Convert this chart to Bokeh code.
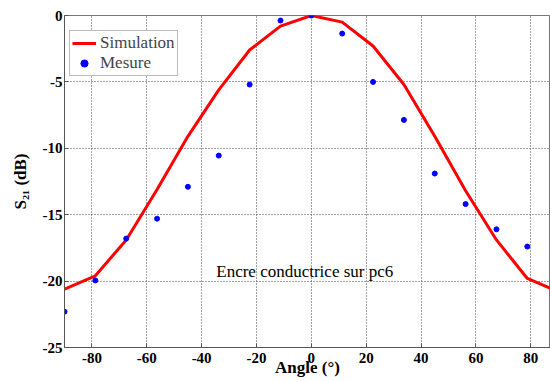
from bokeh.plotting import figure
from bokeh.models import Range1d, FixedTicker, Label, Legend, LegendItem
from bokeh.embed import file_html
from bokeh.resources import INLINE

# ---- data ----
angles = [-90, -78.75, -67.5, -56.25, -45, -33.75, -22.5, -11.25, 0,
          11.25, 22.5, 33.75, 45, 56.25, 67.5, 78.75, 90]
simulation = [-20.6, -19.6, -16.9, -13.1, -9.1, -5.6, -2.6, -0.8, 0.0,
              -0.5, -2.3, -5.2, -9.1, -13.2, -16.9, -19.8, -20.8]
mesure_angles = [-90, -78.75, -67.5, -56.25, -45, -33.75, -22.5, -11.25, 0,
                 11.25, 22.5, 33.75, 45, 56.25, 67.5, 78.75]
mesure = [-22.3, -19.95, -16.8, -15.3, -12.9, -10.55, -5.2, -0.38, 0.0,
          -1.36, -5.0, -7.86, -11.9, -14.2, -16.1, -17.4]
x_ticks = [-80, -60, -40, -20, 0, 20, 40, 60, 80]
x_tick_labels = ["-80", "-60", "-40", "-20", "0", "20", "40", "60", "80"]
y_ticks = [-25, -20, -15, -10, -5, 0]
y_tick_labels = ["-25", "-20", "-15", "-10", "-5", "0"]

FONT = "Liberation Serif"

p = figure(width=550, height=381, x_range=Range1d(-90, 87.2), y_range=Range1d(-25, 0),
           output_backend="svg", toolbar_location=None,
           min_border_left=64, min_border_right=0, min_border_top=15, min_border_bottom=34)
p.background_fill_color = "white"
p.border_fill_color = "white"
p.outline_line_color = "#777777"
p.outline_line_width = 1

sim_r = p.line(angles, simulation, line_color="#FF0000", line_width=3)
mes_r = p.scatter(mesure_angles, mesure, size=5, marker="circle",
                  fill_color="#0000FF", line_color="#0000FF")

# axes
p.xaxis.ticker = FixedTicker(ticks=x_ticks)
p.yaxis.ticker = FixedTicker(ticks=y_ticks)
p.xaxis.major_label_overrides = dict(zip(x_ticks, x_tick_labels))
p.yaxis.major_label_overrides = dict(zip(y_ticks, y_tick_labels))
for ax in (p.xaxis, p.yaxis):
    ax.major_label_text_font = FONT
    ax.major_label_text_font_style = "bold"
    ax.major_label_text_font_size = "15px"
    ax.major_label_text_color = "black"
    ax.minor_tick_line_color = None
    ax.major_tick_in = 4
    ax.major_tick_out = 0
    ax.major_tick_line_color = "#555555"
    ax.axis_line_color = "#555555"
    ax.axis_label_text_font = FONT
    ax.axis_label_text_font_style = "bold"
    ax.axis_label_text_font_size = "17px"
    ax.axis_label_text_color = "black"
p.xaxis.major_label_standoff = 5
p.yaxis.major_label_standoff = 2

p.yaxis.axis_label = "S\u2082\u2081 (dB)"
p.yaxis.axis_label_standoff = 10
p.xaxis.axis_label = "Angle (\u00b0)"
p.xaxis.axis_label_standoff = -8

# grid
p.grid.grid_line_color = "#444444"
p.grid.grid_line_dash = "1 2"
p.grid.grid_line_width = 1

# annotation
p.add_layout(Label(x=-2.4, y=-19.3, text="Encre conductrice sur pc6", text_align="center",
                   text_baseline="middle", text_font=FONT, text_font_size="17px",
                   text_color="black"))

legend = Legend(items=[LegendItem(label="Simulation", renderers=[sim_r]),
                       LegendItem(label="Mesure", renderers=[mes_r])],
                location=(5, 271), margin=0, padding=2, spacing=0,
                glyph_width=24, glyph_height=18, label_height=18, label_standoff=4,
                label_text_font=FONT, label_text_font_size="17px",
                border_line_color="#777777", border_line_width=1,
                background_fill_color="white", background_fill_alpha=1)
p.add_layout(legend)

open("out.html", "w").write(file_html(p, INLINE))
